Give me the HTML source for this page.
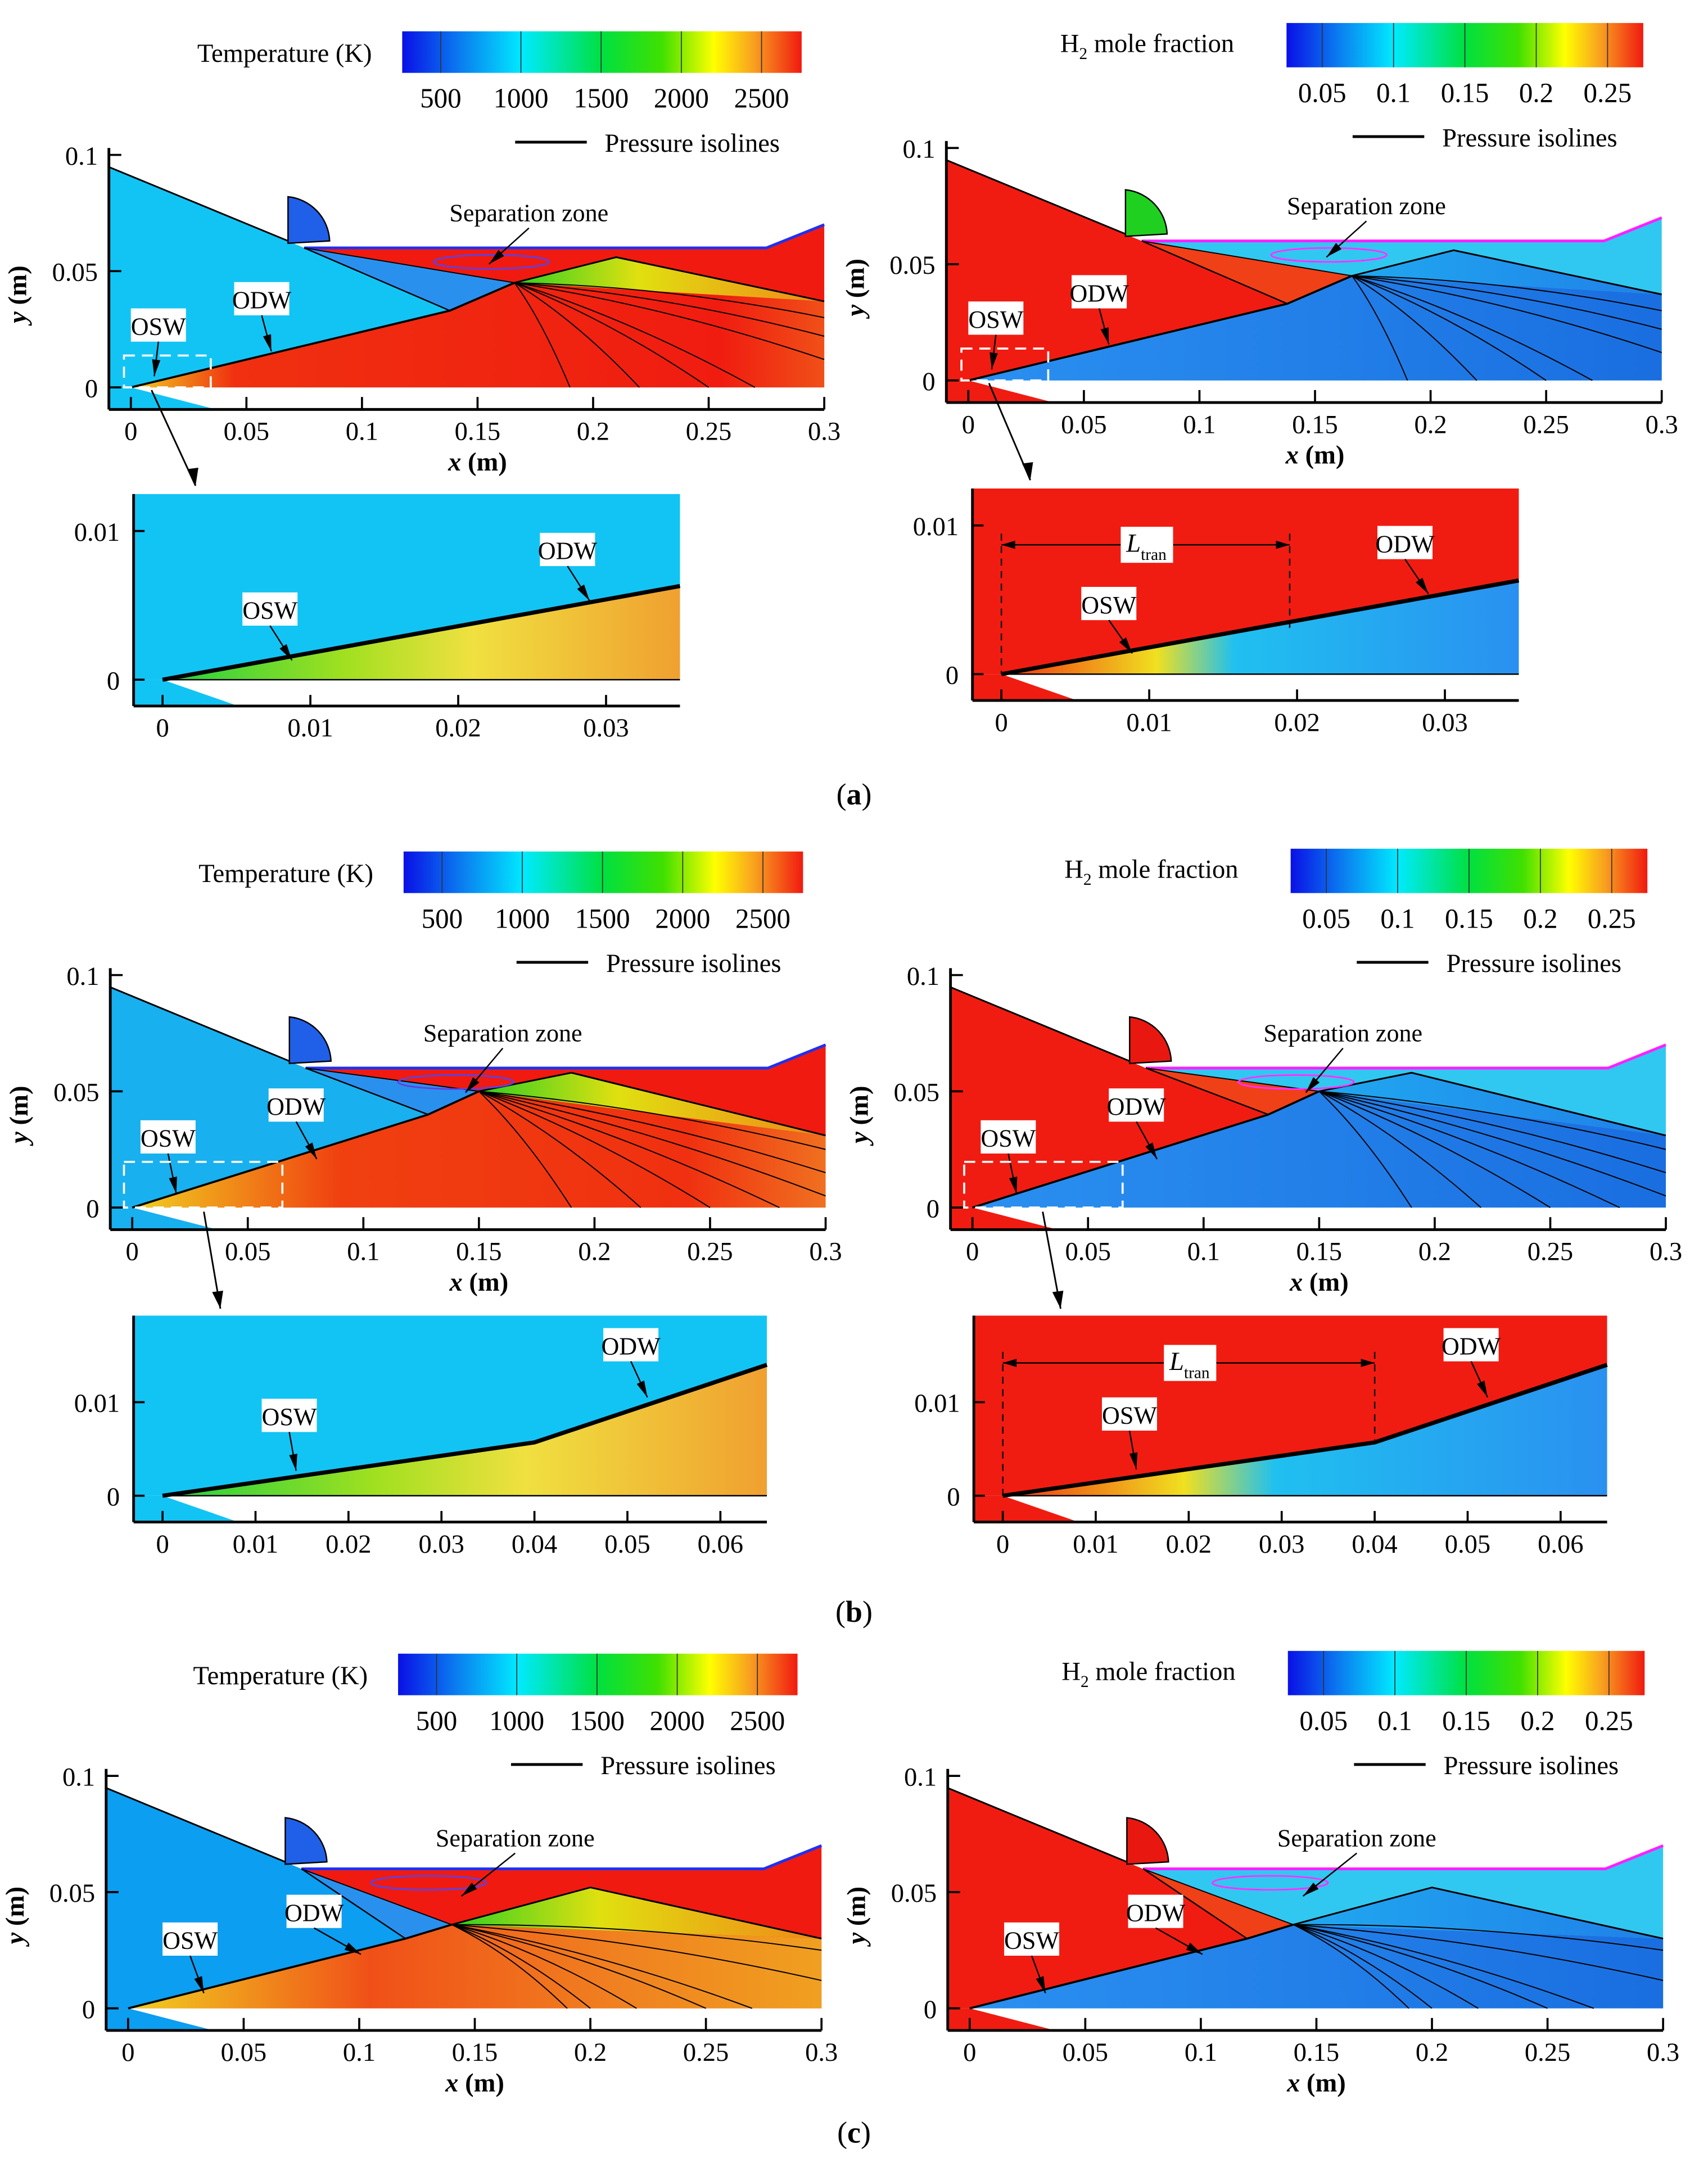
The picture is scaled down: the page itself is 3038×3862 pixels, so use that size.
<!DOCTYPE html>
<html><head><meta charset="utf-8"><style>
html,body{margin:0;padding:0;background:#fff;}
svg{display:block;}
text{font-family:"Liberation Serif",serif;fill:#000;}
</style></head><body>
<svg id="fig" xmlns="http://www.w3.org/2000/svg" width="3038" height="3862" viewBox="0 1.4 1240 1567" preserveAspectRatio="none">
<defs>
<linearGradient id="cbar" x1="0" x2="1" y1="0" y2="0">
<stop offset="0" stop-color="#0a10e6"/><stop offset="0.15" stop-color="#0a80f0"/><stop offset="0.3" stop-color="#00eaff"/><stop offset="0.5" stop-color="#00e040"/><stop offset="0.65" stop-color="#40e000"/><stop offset="0.78" stop-color="#ffff00"/><stop offset="0.88" stop-color="#f8a020"/><stop offset="1" stop-color="#f01a10"/>
</linearGradient>
<linearGradient id="prodTa" x1="0" x2="1" y1="0" y2="0"><stop offset="0" stop-color="#f0d020"/><stop offset="0.15" stop-color="#f03010"/><stop offset="0.85" stop-color="#f01c10"/><stop offset="1" stop-color="#f05018"/></linearGradient>
<linearGradient id="prodT" x1="0" x2="1" y1="0" y2="0"><stop offset="0" stop-color="#f0d020"/><stop offset="0.3" stop-color="#f04010"/><stop offset="0.8" stop-color="#f03010"/><stop offset="1" stop-color="#f07020"/></linearGradient>
<linearGradient id="prodTc" x1="0" x2="1" y1="0" y2="0"><stop offset="0" stop-color="#f0d020"/><stop offset="0.35" stop-color="#f05018"/><stop offset="0.7" stop-color="#f08020"/><stop offset="1" stop-color="#f0a020"/></linearGradient>
<linearGradient id="expT" x1="0" x2="1" y1="0" y2="0"><stop offset="0" stop-color="#30d020"/><stop offset="0.4" stop-color="#e0e010"/><stop offset="1" stop-color="#f08818"/></linearGradient>
<linearGradient id="prodH" x1="0" x2="1" y1="0" y2="0"><stop offset="0" stop-color="#2a90f0"/><stop offset="1" stop-color="#1a6ee0"/></linearGradient>
<linearGradient id="expH" x1="0" x2="1" y1="0" y2="0"><stop offset="0" stop-color="#20a8f0"/><stop offset="1" stop-color="#2080e8"/></linearGradient>
<linearGradient id="zoomT" x1="0" x2="1" y1="0" y2="0"><stop offset="0" stop-color="#20d040"/><stop offset="0.35" stop-color="#a0e020"/><stop offset="0.6" stop-color="#f0e040"/><stop offset="1" stop-color="#f0a030"/></linearGradient>
<linearGradient id="zoomH" x1="0" x2="1" y1="0" y2="0"><stop offset="0" stop-color="#f03010"/><stop offset="0.3" stop-color="#f0e020"/><stop offset="0.45" stop-color="#20c0f0"/><stop offset="1" stop-color="#2a90f0"/></linearGradient>
</defs>
<text x="620" y="582" font-size="22" text-anchor="middle">(<tspan font-weight="bold">a</tspan>)</text>
<text x="620" y="1172" font-size="22" text-anchor="middle">(<tspan font-weight="bold">b</tspan>)</text>
<text x="620" y="1548" font-size="22" text-anchor="middle">(<tspan font-weight="bold">c</tspan>)</text>
</svg>
<script>
const xTickVals=[0,0.05,0.1,0.15,0.2,0.25,0.3];
const xTickLabels=['0','0.05','0.1','0.15','0.2','0.25','0.3'];
const yTickVals=[0,0.05,0.1];
const yTickLabels=['0','0.05','0.1'];
const zoomXTicksA=[0,0.01,0.02,0.03];
const zoomXTicksB=[0,0.01,0.02,0.03,0.04,0.05,0.06];
const zoomYTicks=[0,0.01];
const tempTicks=[500,1000,1500,2000,2500];
const tempRange=[260,2750];
const h2Ticks=[0.05,0.1,0.15,0.2,0.25];
const h2Labels=['0.05','0.1','0.15','0.2','0.25'];
const h2Range=[0.025,0.275];

const NS='http://www.w3.org/2000/svg';
const svg=document.getElementById('fig');
function el(tag,attrs,parent){const e=document.createElementNS(NS,tag);for(const k in attrs)e.setAttribute(k,attrs[k]);(parent||svg).appendChild(e);return e;}
function txt(s,attrs,parent){const e=el('text',attrs,parent);e.textContent=s;return e;}

function colorbar(x,y,w,h,kind){
  const g=el('g',{});
  
  
  el('rect',{x:x,y:y,width:w,height:h,fill:'url(#cbar)'},g);
  const ticks=kind==='T'?tempTicks:h2Ticks, rng=kind==='T'?tempRange:h2Range;
  ticks.forEach((t,i)=>{
    const px=x+(t-rng[0])/(rng[1]-rng[0])*w;
    el('line',{x1:px,x2:px,y1:y,y2:y+h,stroke:'#333','stroke-width':0.7},g);
    const lb=txt(kind==='T'?String(t):h2Labels[i],{x:px,y:y+h+25,'font-size':20,'text-anchor':'middle'},g);
    
    
  });
  if(kind==='T'){
    const t=txt('Temperature (K)',{x:x-22,y:y+h/2+7,'font-size':19,'text-anchor':'end'},g);
    
    
  } else {
    const t=el('text',{x:x-38,y:y+h/2+5,'font-size':19,'text-anchor':'end'},g);
    t.innerHTML='H<tspan font-size="12" dy="5">2</tspan><tspan dy="-5"> mole fraction</tspan>';
    
    
  }
  const ly=y+h+50;
  const lx=x+(kind==='T'?82:48);
  el('line',{x1:lx,x2:lx+52,y1:ly,y2:ly,stroke:'#000','stroke-width':2},g);
  const lt=txt('Pressure isolines',{x:lx+65,y:ly+7,'font-size':19},g);
  
  
}

function labelBox(s,cx,cy,ax,ay,parent){
  const w=s.length*10+10;
  el('rect',{x:cx-w/2,y:cy-13,width:w,height:24,fill:'#fff'},parent);
  const t=txt(s,{x:cx,y:cy+6,'font-size':18,'text-anchor':'middle'},parent);
  
  
  el('line',{x1:cx,y1:cy+11,x2:ax,y2:ay,stroke:'#000','stroke-width':1},parent);
  const dx=ax-cx,dy=ay-(cy+11),L=Math.hypot(dx,dy),ux=dx/L,uy=dy/L;
  el('polygon',{points:`${ax},${ay} ${ax-ux*12-uy*3},${ay-uy*12+ux*3} ${ax-ux*12+uy*3},${ay-uy*12-ux*3}`,fill:'#000'},parent);
}

const rows=[
 {r:[0.166,0.045],k:[0.138,0.033],up:[0.21,0.056],lowEnd:0.037,fan:[[0.3,0.03],[0.3,0.022],[0.27,0],[0.25,0],[0.22,0],[0.19,0],[0.3,0.012]],prod:'url(#prodTa)'},
 {r:[0.15,0.05],k:[0.128,0.04],up:[0.19,0.058],lowEnd:0.031,fan:[[0.3,0.025],[0.3,0.015],[0.28,0],[0.25,0],[0.22,0],[0.19,0],[0.3,0.005]],prod:'url(#prodT)'},
 {r:[0.14,0.036],k:[0.12,0.03],up:[0.2,0.052],lowEnd:0.03,fan:[[0.3,0.025],[0.25,0],[0.22,0],[0.2,0],[0.19,0],[0.3,0.012],[0.27,0]],prod:'url(#prodTc)'}
];
const inletColors=['#12c4f4','#18b0ee','#0c9ef0'];

function mainPlot(x0,y0,row,kind,name,ann){
  const s=1678;
  const X=x=>x0+x*s, Y=y=>y0-y*s;
  const P=a=>a.map(p=>X(p[0])+','+Y(p[1])).join(' ');
  const g=el('g',{});
  
  
  const R=rows[row];
  const T=kind==='T';
  const inlet=T?inletColors[row]:'#f01c12';
  const sep=T?'#f01a10':'#30c8f0';
  const prod=T?R.prod:'url(#prodH)';
  const exp=T?'url(#expT)':'url(#expH)';
  el('polygon',{points:P([[-0.01,0],[0,0],[0.035,-0.009],[-0.01,-0.009]]),fill:inlet},g);
  el('polygon',{points:P([[-0.01,0.095],[0.075,0.06],[0.275,0.06],[0.3,0.07],[0.3,0],[0,0],[-0.01,0]]),fill:sep},g);
  el('polygon',{points:P([[0,0],R.k,R.r,[0.3,R.lowEnd],[0.3,0]]),fill:prod},g);
  el('polygon',{points:P([R.r,R.up,[0.3,R.lowEnd]]),fill:exp},g);
  el('polygon',{points:P([[0.075,0.06],R.r,R.k]),fill:T?'#2a90ee':'#f04018'},g);
  el('polygon',{points:P([[-0.01,0.095],[0.075,0.06],R.k,[0,0],[-0.01,0]]),fill:inlet},g);
  el('path',{d:`M${X(0.068)},${Y(0.062)} L${X(0.068)},${Y(0.082)} A${0.02*s},${0.02*s} 0 0 1 ${X(0.086)},${Y(0.063)} Z`,fill:T?'#2060e8':(row===0?'#20d020':'#e81810'),stroke:'#000','stroke-width':1},g);
  el('polyline',{points:P([[-0.01,0.095],[0.068,0.063]]),fill:'none',stroke:'#000','stroke-width':1.2},g);
  el('polyline',{points:P([[0.075,0.06],[0.275,0.06],[0.3,0.07]]),fill:'none',stroke:T?'#2030f0':'#ff20ff','stroke-width':2},g);
  el('polyline',{points:P([[0.075,0.06],R.k]),fill:'none',stroke:'#000','stroke-width':1},g);
  el('polyline',{points:P([[0.075,0.06],R.r]),fill:'none',stroke:'#000','stroke-width':0.8},g);
  el('polyline',{points:P([[0,0],R.k,R.r]),fill:'none',stroke:'#000','stroke-width':1.5},g);
  el('polyline',{points:P([R.r,R.up,[0.3,R.lowEnd]]),fill:'none',stroke:'#000','stroke-width':1.2},g);
  R.fan.forEach(e=>{
    const mx=(R.r[0]+e[0])/2, my=(R.r[1]+e[1])/2+0.006;
    el('path',{d:`M${X(R.r[0])},${Y(R.r[1])} Q${X(mx)},${Y(my)} ${X(e[0])},${Y(e[1])}`,fill:'none',stroke:'#000','stroke-width':0.8},g);
  });
  el('ellipse',{cx:X(R.r[0]-0.01),cy:Y(0.054),rx:0.025*s,ry:0.003*s,fill:'none',stroke:T?'#6040e0':'#ff30ff','stroke-width':1.2},g);
  el('line',{x1:X(-0.0095),y1:Y(0.1)-5,x2:X(-0.0095),y2:Y(-0.0095),stroke:'#000','stroke-width':2},g);
  el('line',{x1:X(-0.0095),y1:Y(-0.0095),x2:X(0.3),y2:Y(-0.0095),stroke:'#000','stroke-width':2},g);
  xTickVals.forEach((v,i)=>{
    el('line',{x1:X(v),x2:X(v),y1:Y(-0.0095),y2:Y(-0.0095)-9,stroke:'#000','stroke-width':1.5},g);
    const t=txt(xTickLabels[i],{x:X(v),y:Y(-0.0095)+22,'font-size':19,'text-anchor':'middle'},g);
    
    
  });
  yTickVals.forEach((v,i)=>{
    el('line',{x1:X(-0.0095),x2:X(-0.0095)+9,y1:Y(v),y2:Y(v),stroke:'#000','stroke-width':1.5},g);
    const t=txt(yTickLabels[i],{x:X(-0.0095)-8,y:Y(v)+7,'font-size':19,'text-anchor':'end'},g);
    
    
  });
  const xt=el('text',{x:X(0.15),y:Y(-0.0095)+44,'font-size':19,'text-anchor':'middle','font-weight':'bold'},g);
  xt.innerHTML='<tspan font-style="italic">x</tspan> (m)';
  
  
  const yt=el('text',{x:0,y:0,'font-size':19,'text-anchor':'middle','font-weight':'bold',transform:`translate(${X(-0.0095)-60},${Y(0.04)}) rotate(-90)`},g);
  yt.innerHTML='<tspan font-style="italic">y</tspan> (m)';
  
  
  ann.forEach(a=>labelBox(a[0],x0+a[1],y0+a[2],x0+a[3],y0+a[4],g));
}

function zoomPlot(x0,y0,s,xmax,ticks,ymaxPx,kind,osw,name,ann,ltran,ltranY){
  const X=x=>x0+x*s, Y=y=>y0-y*s;
  const g=el('g',{});
  
  
  const T=kind==='T';
  const left=x0-21;
  el('rect',{x:left,y:ymaxPx,width:X(xmax)-left,height:y0-ymaxPx,fill:T?'#12c4f4':'#f01c12'},g);
  el('polygon',{points:`${left},${y0} ${x0},${y0} ${x0+55},${y0+19} ${left},${y0+19}`,fill:T?'#12c4f4':'#f01c12'},g);
  const pts=osw.map(p=>X(p[0])+','+Y(p[1])).join(' ');
  el('polygon',{points:`${pts} ${X(xmax)},${y0}`,fill:T?'url(#zoomT)':'url(#zoomH)'},g);
  el('polyline',{points:pts,fill:'none',stroke:'#000','stroke-width':3},g);
  el('line',{x1:x0,y1:y0,x2:X(xmax),y2:y0,stroke:'#000','stroke-width':1},g);
  el('line',{x1:left,y1:ymaxPx,x2:left,y2:y0+19,stroke:'#000','stroke-width':2},g);
  el('line',{x1:left,y1:y0+19,x2:X(xmax),y2:y0+19,stroke:'#000','stroke-width':2},g);
  ticks.forEach(v=>{
    el('line',{x1:X(v),x2:X(v),y1:y0+19,y2:y0+11,stroke:'#000','stroke-width':1.5},g);
    const t=txt(String(v),{x:X(v),y:y0+41,'font-size':19,'text-anchor':'middle'},g);
    
    
  });
  zoomYTicks.forEach(v=>{
    el('line',{x1:left,x2:left+8,y1:Y(v),y2:Y(v),stroke:'#000','stroke-width':1.5},g);
    const t=txt(String(v),{x:left-10,y:Y(v)+7,'font-size':19,'text-anchor':'end'},g);
    
    
  });
  if(ltran){
    const ya=Y(ltranY);
    el('line',{x1:X(0),y1:ya-8,x2:X(0),y2:y0,stroke:'#000','stroke-width':1,'stroke-dasharray':'5,4'},g);
    el('line',{x1:X(ltran),y1:ya-8,x2:X(ltran),y2:Y(ltran*0.15),stroke:'#000','stroke-width':1,'stroke-dasharray':'5,4'},g);
    el('line',{x1:X(0),y1:ya,x2:X(ltran),y2:ya,stroke:'#000','stroke-width':1},g);
    el('polygon',{points:`${X(0)},${ya} ${X(0)+10},${ya-3} ${X(0)+10},${ya+3}`,fill:'#000'},g);
    el('polygon',{points:`${X(ltran)},${ya} ${X(ltran)-10},${ya-3} ${X(ltran)-10},${ya+3}`,fill:'#000'},g);
    const cx=X(ltran/2);
    el('rect',{x:cx-18,y:ya-13,width:38,height:26,fill:'#fff'},g);
    const t=el('text',{x:cx-14,y:ya+5,'font-size':19,'font-style':'italic'},g);
    t.innerHTML='L<tspan font-size="12" dy="6" font-style="normal">tran</tspan>';
    
    
  }
  ann.forEach(a=>labelBox(a[0],x0+a[1],y0+a[2],x0+a[3],y0+a[4],g));
}

colorbar(292,24,290,30,'T'); colorbar(934,18,259,32,'H');
colorbar(293,616,290,30,'T'); colorbar(937,614,259,32,'H');
colorbar(289,1195,290,30,'T'); colorbar(935,1193,259,32,'H');

const annA=[['Separation zone',289,-126,260,-89],['ODW',95,-63,102,-26],['OSW',20,-44,17,-8]];
const annB=[['Separation zone',269,-126,242,-83],['ODW',119,-73,134,-35],['OSW',26,-50,32,-10]];
const annC=[['Separation zone',281,-123,242,-81],['ODW',135,-69,169,-39],['OSW',45,-49,55,-11]];
mainPlot(95,281,0,'T','temperature-plot-a',annA);
mainPlot(703,276,0,'H','h2-plot-a',annA);
mainPlot(96,873,1,'T','temperature-plot-b',annB);
mainPlot(706,873,1,'H','h2-plot-b',annB);
mainPlot(93,1451,2,'T','temperature-plot-c',annC);
mainPlot(704,1451,2,'H','h2-plot-c',annC);

[[90,258,63,23,110,283,142,352],[698,253,63,23,718,278,748,348],[90,840,115,33,148,876,160,946],[700,840,115,33,757,876,770,946]].forEach(b=>{
  const r=el('rect',{x:b[0],y:b[1],width:b[2],height:b[3],fill:'none',stroke:'#fff','stroke-width':1.5,'stroke-dasharray':'8,5'});
  
  
  el('line',{x1:b[4],y1:b[5],x2:b[6],y2:b[7],stroke:'#000','stroke-width':1.2});
  el('polygon',{points:`${b[6]},${b[7]} ${b[6]-6},${b[7]-12} ${b[6]+2},${b[7]-13}`,fill:'#000'});
});

zoomPlot(118,492,10733,0.035,zoomXTicksA,358,'T',[[0,0],[0.035,0.0063]],'temperature-zoom-a',[['ODW',294,-93,310,-57],['OSW',78,-50,94,-14]],0,0);
zoomPlot(727,488,10733,0.035,zoomXTicksA,354,'H',[[0,0],[0.035,0.0063]],'h2-zoom-a',[['ODW',293,-94,310,-58],['OSW',78,-50,95,-15]],0.0195,0.0087);
zoomPlot(118,1081,6750,0.065,zoomXTicksB,951,'T',[[0,0],[0.04,0.0057],[0.065,0.014]],'temperature-zoom-b',[['ODW',340,-108,352,-71],['OSW',92,-57,97,-18]],0,0);
zoomPlot(728,1081,6750,0.065,zoomXTicksB,951,'H',[[0,0],[0.04,0.0057],[0.065,0.014]],'h2-zoom-b',[['ODW',340,-108,352,-71],['OSW',92,-58,97,-19]],0.04,0.0142);
</script>
</body></html>
